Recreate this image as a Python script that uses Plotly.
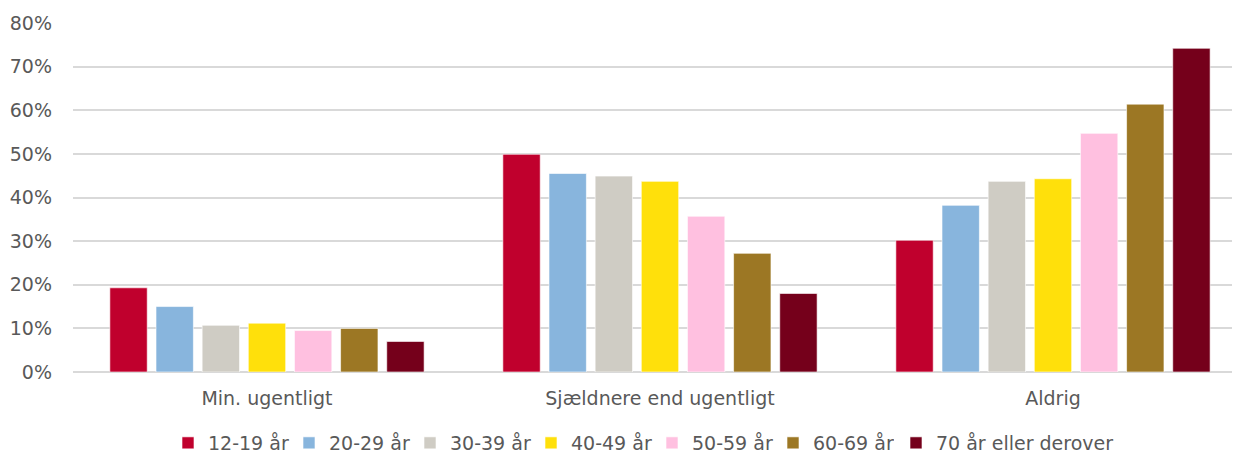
import plotly.graph_objects as go

categories = ["Min. ugentligt", "Sjældnere end ugentligt", "Aldrig"]
series_names = ["12-19 år", "20-29 år", "30-39 år", "40-49 år", "50-59 år", "60-69 år", "70 år eller derover"]
v_12_19 = [0.193, 0.499, 0.302]
v_20_29 = [0.150, 0.455, 0.382]
v_30_39 = [0.107, 0.449, 0.437]
v_40_49 = [0.112, 0.437, 0.443]
v_50_59 = [0.095, 0.357, 0.547]
v_60_69 = [0.100, 0.272, 0.614]
v_70 = [0.070, 0.180, 0.742]
values = [v_12_19, v_20_29, v_30_39, v_40_49, v_50_59, v_60_69, v_70]
colors = ["#C0002D", "#88B5DD", "#CFCCC4", "#FFE00B", "#FFC0E0", "#9C7724", "#75001B"]

FONT = "DejaVu Sans"
GREY = "#595959"
FS = 19

fig = go.Figure()
for i, (name, vals, col) in enumerate(zip(series_names, values, colors)):
    fig.add_trace(go.Bar(
        x=categories, y=vals, name=name,
        legend="legend2" if i == len(series_names) - 1 else "legend",
        marker=dict(color=col, line=dict(color="rgba(255,255,255,0.6)", width=1)),
    ))

legend_common = dict(orientation="h", xanchor="left",
                     yref="container", y=1 - 443 / 453, yanchor="middle",
                     font=dict(size=FS, color=GREY), traceorder="normal", itemwidth=30)

PLOT_W = 1233 - 73 - 1
fig.update_layout(
    width=1233, height=453,
    barmode="group", bargap=0.178, bargroupgap=0.19,
    paper_bgcolor="white", plot_bgcolor="white",
    margin=dict(l=73, r=1, t=23, b=81, autoexpand=False),
    font=dict(family=FONT, color=GREY, size=FS),
    showlegend=True,
    legend=dict(x=(168 - 73) / PLOT_W, entrywidth=76, **legend_common),
    legend2=dict(x=(896 - 73) / PLOT_W, **legend_common),
    xaxis=dict(showline=False, ticks="", ticklabelstandoff=13, tickfont=dict(size=FS, color=GREY),
               range=[-0.4936, -0.4936 + PLOT_W / 393]),
    yaxis=dict(range=[0, 0.8], dtick=0.1, tickformat=".0%", showgrid=True,
               gridcolor="#D9D9D9", gridwidth=1.5, zeroline=True, zerolinecolor="#D9D9D9",
               zerolinewidth=1.5, ticks="", ticklabelstandoff=20,
               tickfont=dict(size=FS, color=GREY)),
)

fig.write_html("out.html", config={"displayModeBar": False},
               post_script="document.body.style.margin='0';document.body.style.padding='0';")
